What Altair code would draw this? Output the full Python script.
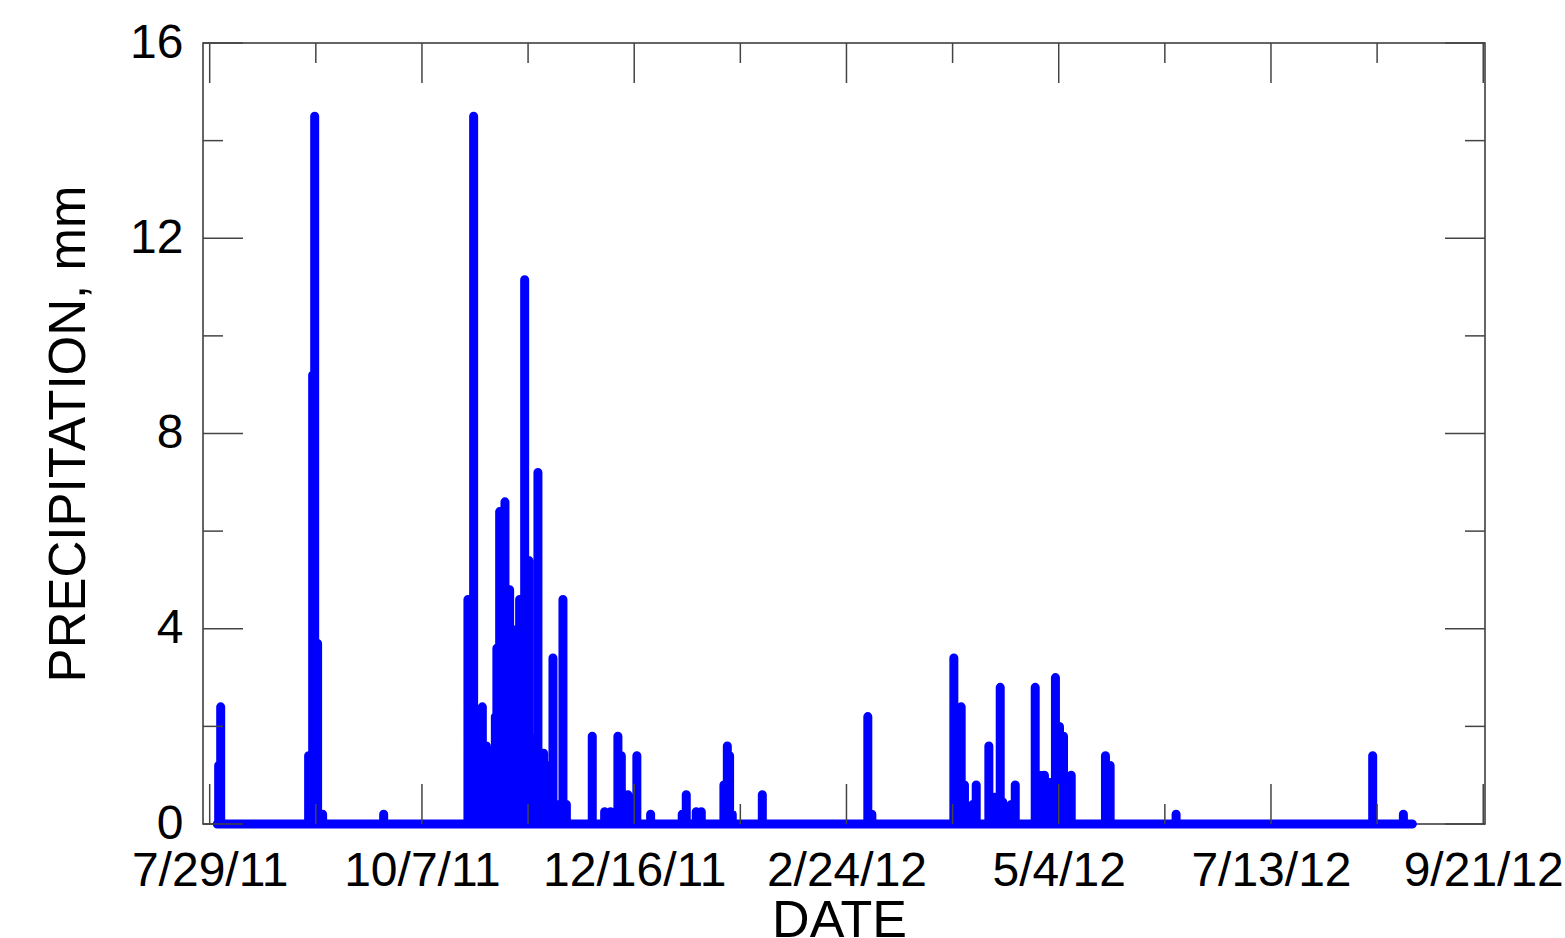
import altair as alt
import pandas as pd

# ---- data ----
spike_times = [
    "2011-07-31T23:00", "2011-08-01T15:00", "2011-08-30T15:00", "2011-08-31T23:00",
    "2011-09-01T15:00", "2011-09-02T14:00", "2011-09-04T06:00", "2011-09-24T09:00",
    "2011-10-22T04:00", "2011-10-24T01:00", "2011-10-26T22:00", "2011-10-28T06:00",
    "2011-10-29T02:00", "2011-10-31T05:00", "2011-10-31T17:00", "2011-11-01T15:00",
    "2011-11-03T09:00", "2011-11-04T22:00", "2011-11-05T14:00", "2011-11-06T06:00",
    "2011-11-07T21:00", "2011-11-08T05:00", "2011-11-09T21:00", "2011-11-11T06:00",
    "2011-11-11T12:00", "2011-11-14T06:00", "2011-11-16T03:00", "2011-11-16T19:00",
    "2011-11-17T18:00", "2011-11-19T05:00", "2011-11-20T10:00", "2011-11-22T12:00",
    "2011-11-23T15:00", "2011-12-02T04:00", "2011-12-06T06:00", "2011-12-08T05:00",
    "2011-12-10T15:00", "2011-12-11T18:00", "2011-12-13T22:00", "2011-12-16T21:00",
    "2011-12-21T10:00", "2011-12-31T20:00", "2012-01-02T04:00", "2012-01-05T11:00",
    "2012-01-07T03:00", "2012-01-14T14:00", "2012-01-15T17:00", "2012-01-16T11:00",
    "2012-01-17T08:00", "2012-01-27T06:00", "2012-03-02T01:00", "2012-03-03T09:00",
    "2012-03-30T10:00", "2012-04-01T20:00", "2012-04-02T22:00", "2012-04-05T16:00",
    "2012-04-06T19:00", "2012-04-10T23:00", "2012-04-12T20:00", "2012-04-14T17:00",
    "2012-04-15T13:00", "2012-04-18T08:00", "2012-04-19T16:00", "2012-04-26T06:00",
    "2012-04-27T16:00", "2012-04-29T07:00", "2012-05-01T04:00", "2012-05-02T22:00",
    "2012-05-04T06:00", "2012-05-05T14:00", "2012-05-08T03:00", "2012-05-19T10:00",
    "2012-05-20T23:00", "2012-06-11T17:00", "2012-08-15T13:00", "2012-08-25T16:00",
]
spike_values = [
    1.2, 2.4, 1.4, 9.2,
    14.5, 3.7, 0.2, 0.2,
    4.6, 14.5, 2.4, 1.6,
    0.2, 2.2, 3.6, 6.4,
    6.6, 4.8, 4.0, 0.2,
    0.8, 4.6, 11.15, 5.4,
    1.8, 7.2, 1.45, 0.2,
    1.2, 3.4, 0.4, 4.6,
    0.4, 1.8, 0.25, 0.25,
    1.8, 1.4, 0.6, 1.4,
    0.2, 0.2, 0.6, 0.25,
    0.25, 0.8, 1.6, 1.4,
    0.2, 0.6, 2.2, 0.2,
    3.4, 2.4, 0.8, 0.4,
    0.8, 1.6, 0.55, 2.8,
    0.45, 0.4, 0.8, 2.8,
    1.0, 1.0, 0.85, 3.0,
    2.0, 1.8, 1.0, 1.4,
    1.2, 0.2, 1.4, 0.2,
]
series_start = "2011-07-31T12:00"
series_end = "2012-08-28T15:00"

x_major = ["2011-07-29T00:00", "2011-10-07T00:00", "2011-12-16T00:00", "2012-02-24T00:00",
           "2012-05-04T00:00", "2012-07-13T00:00", "2012-09-21T00:00"]
x_minor = ["2011-09-02T00:00", "2011-11-11T00:00", "2012-01-20T00:00", "2012-03-30T00:00",
           "2012-06-08T00:00", "2012-08-17T00:00"]
y_major = [0, 4, 8, 12, 16]
y_minor = [2, 6, 10, 14]

# ---- build table ----
rows = [{"t": series_start, "v": 0.0}]
for t, v in zip(spike_times, spike_values):
    rows += [{"t": t, "v": 0.0}, {"t": t, "v": v}, {"t": t, "v": 0.0}]
rows.append({"t": series_end, "v": 0.0})
for i, r in enumerate(rows):
    r["i"] = i
line_df = pd.DataFrame(rows)

W, H = 1282, 781
FONT = "Liberation Sans"
TICK_COLOR = "#444444"

xdom = [alt.DateTime(year=2011, month=7, date=26, hours=19),
        alt.DateTime(year=2012, month=9, date=21, hours=14)]
xscale = alt.Scale(domain=xdom)
yscale = alt.Scale(domain=[0, 16], nice=False, zero=True)

x_tick_values = [alt.DateTime(year=int(s[:4]), month=int(s[5:7]), date=int(s[8:10])) for s in x_major]

xaxis = alt.Axis(values=x_tick_values, format="%-m/%-d/%y", labelFontSize=48,
                 labelFont=FONT, labelColor="black", ticks=False,
                 domain=False, grid=False, labelPadding=23, titleFont=FONT,
                 titleFontSize=52, titleFontWeight="normal", titleColor="black",
                 titlePadding=0, titleX=636, labelFlush=False, labelOverlap=False,
                 labelLimit=500)
yaxis = alt.Axis(values=y_major, labelFontSize=48, labelFont=FONT, labelColor="black",
                 ticks=False, domain=False, grid=False, labelPadding=20,
                 titleFont=FONT, titleFontSize=51, titleFontWeight="normal",
                 titleColor="black", titlePadding=34, labelLimit=500)
XTITLE = "DATE"
YTITLE = "PRECIPITATION, mm"

line = alt.Chart(line_df).mark_line(
    color="#0000FF", strokeWidth=9, strokeCap="round", strokeJoin="round"
).encode(
    x=alt.X("t:T", scale=xscale, title=XTITLE, axis=xaxis),
    y=alt.Y("v:Q", scale=yscale, title=YTITLE, axis=yaxis),
    order=alt.Order("i:Q"),
)

xmaj_df = pd.DataFrame({"t": x_major})
xmin_df = pd.DataFrame({"t": x_minor})
ymaj_df = pd.DataFrame({"v": y_major})
ymin_df = pd.DataFrame({"v": y_minor})


def xticks(df, length, top):
    y0 = 0 if top else H
    y1 = length if top else H - length
    return alt.Chart(df).mark_rule(color=TICK_COLOR, strokeWidth=1.5).encode(
        x=alt.X("t:T", scale=xscale, title=XTITLE, axis=xaxis),
        y=alt.value(y0), y2=alt.value(y1))


def yticks(df, length, left):
    x0 = 0 if left else W
    x1 = length if left else W - length
    return alt.Chart(df).mark_rule(color=TICK_COLOR, strokeWidth=1.5).encode(
        y=alt.Y("v:Q", scale=yscale, title=YTITLE, axis=yaxis),
        x=alt.value(x0), x2=alt.value(x1))


tick_layers = [
    xticks(xmaj_df, 40, True), xticks(xmaj_df, 40, False),
    xticks(xmin_df, 20, True), xticks(xmin_df, 20, False),
    yticks(ymaj_df, 40, True), yticks(ymaj_df, 40, False),
    yticks(ymin_df, 20, True), yticks(ymin_df, 20, False),
]

chart = alt.layer(line, *tick_layers).properties(
    width=W, height=H,
    autosize=alt.AutoSizeParams(type="none"),
    padding={"left": 203, "top": 43, "right": 80, "bottom": 114},
    background="white",
).configure_view(stroke="#333333", strokeWidth=1.5)

chart.save("out.html", embed_options={"renderer": "svg", "actions": False})
